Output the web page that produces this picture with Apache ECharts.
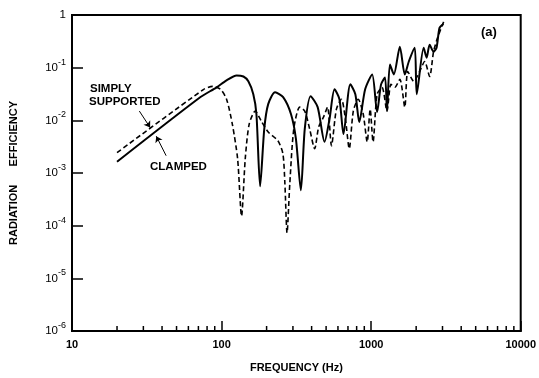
<!DOCTYPE html>
<html>
<head>
<meta charset="utf-8">
<script src="https://cdn.jsdelivr.net/npm/echarts@6/dist/echarts.min.js"></script>
<style>html,body{margin:0;padding:0;background:#fff}#c{width:539px;height:378px}</style>
</head>
<body>
<div id="c"></div>
<script>
// Clamped plate (solid)
const clampedFreq = [20, 70.5, 92.7, 108, 126, 140, 151, 163, 171, 181, 193, 205, 228, 258, 291, 314, 339, 360, 394, 439, 488, 527, 569, 614, 653, 726, 784, 833, 912, 1016, 1096, 1165, 1238, 1276, 1336, 1419, 1556, 1679, 1786, 1956, 2017, 2245, 2350, 2461, 2614, 2737, 2866, 3044];
const clampedEff  = [1.64e-3, 0.0263, 0.0424, 0.0574, 0.0713, 0.068, 0.055, 0.0313, 0.0132, 5.6e-4, 6.9e-3, 0.0203, 0.0341, 0.0275, 0.0132, 4.5e-3, 4.7e-4, 6.9e-3, 0.0287, 0.0178, 3.9e-3, 0.0106, 0.0388, 0.0252, 5.5e-3, 0.0482, 0.0313, 9.3e-3, 0.0388, 0.0744, 0.0144, 0.0482, 0.0653, 0.015, 0.115, 0.0744, 0.25, 0.0744, 0.131, 0.239, 0.0313, 0.239, 0.155, 0.273, 0.201, 0.239, 0.569, 0.677];
// Simply supported plate (dashed)
const ssFreq = [20, 76, 87.1, 98.4, 108, 118, 128, 136, 144, 153, 168, 184, 205, 238, 257, 265, 274, 286, 304, 333, 360, 388, 419, 446, 481, 511, 543, 586, 633, 673, 714, 760, 820, 885, 941, 985, 1030, 1096, 1183, 1276, 1356, 1441, 1556, 1679, 1758, 1928, 2112, 2280, 2461, 2614, 2780, 3090];
const ssEff  = [2.43e-3, 0.0388, 0.0442, 0.0388, 0.0252, 8.5e-3, 1.87e-3, 1.52e-4, 1.87e-3, 8.5e-3, 0.015, 9.7e-3, 6.0e-3, 4.1e-3, 2.33e-3, 6.4e-4, 7.3e-5, 6.4e-4, 6.9e-3, 0.0178, 0.015, 6.9e-3, 2.9e-3, 7.5e-3, 0.0116, 0.0178, 3.3e-3, 0.0163, 0.0252, 0.0106, 2.9e-3, 0.015, 0.0252, 0.0132, 3.9e-3, 0.0163, 3.9e-3, 0.0313, 0.0424, 0.015, 0.0482, 0.0424, 0.0599, 0.0178, 0.0848, 0.055, 0.0848, 0.131, 0.068, 0.201, 0.369, 0.805];
// Axis ticks
const xMin = 10, xMax = 10000, yMin = 1e-6, yMax = 1;
const xMinorTicks = [20,30,40,50,60,70,80,90,200,300,400,500,600,700,800,900,2000,3000,4000,5000,6000,7000,8000,9000];
// Annotation arrows [from, to] in data units
const ssArrow = [[28.2, 0.015], [33.3, 7.3e-3]];
const clArrow = [[42.6, 2.13e-3], [36.6, 5.0e-3]];

const FONT = '"Liberation Sans", Arial, sans-serif';
const chart = echarts.init(document.getElementById('c'), null, {renderer: 'canvas'});

function zip(a, b) { return a.map((v, i) => [v, b[i]]); }

const option = {
  backgroundColor: '#fff',
  animation: false,
  grid: {left: 72, right: 13, top: 15, bottom: 44, show: true, borderColor: '#000', borderWidth: 2},
  xAxis: {
    type: 'log', logBase: 10, min: xMin, max: xMax, splitNumber: 3,
    name: 'FREQUENCY (Hz)', nameLocation: 'middle', nameGap: 31,
    nameTextStyle: {fontFamily: FONT, fontWeight: 'bold', fontSize: 11, color: '#000'},
    axisLine: {lineStyle: {color: '#000', width: 2}},
    axisTick: {inside: true, length: 10, lineStyle: {color: '#000', width: 1.5}},
    axisLabel: {fontFamily: FONT, fontSize: 11, fontWeight: 'bold', color: '#000', margin: 8,
      formatter: function (v) { return String(Math.round(v)); }},
    splitLine: {show: false}
  },
  yAxis: {
    type: 'log', logBase: 10, min: yMin, max: yMax, splitNumber: 6,
    name: 'RADIATION      EFFICIENCY', nameLocation: 'middle', nameGap: 53, nameRotate: 90,
    nameTextStyle: {fontFamily: FONT, fontWeight: 'bold', fontSize: 11, color: '#000'},
    axisLine: {lineStyle: {color: '#000', width: 2}},
    axisTick: {inside: true, length: 11, lineStyle: {color: '#000', width: 1.5}},
    axisLabel: {
      margin: 6,
      formatter: function (v) {
        const e = Math.round(Math.log10(v));
        if (e === 0) return '{b|1}';
        return '{b|10}{s|' + e + '}';
      },
      rich: {
        b: {fontFamily: FONT, fontSize: 11.5, color: '#000'},
        s: {fontFamily: FONT, fontSize: 9, color: '#000', padding: [0, 0, 11, 0]}
      }
    },
    splitLine: {show: false}
  },
  graphic: [
    {type: 'text', left: 90, top: 83, style: {text: 'SIMPLY', font: 'bold 11.5px ' + FONT, fill: '#000'}},
    {type: 'text', left: 89, top: 96, style: {text: 'SUPPORTED', font: 'bold 11.5px ' + FONT, fill: '#000'}},
    {type: 'text', left: 150, top: 161, style: {text: 'CLAMPED', font: 'bold 11.5px ' + FONT, fill: '#000'}},
    {type: 'text', left: 481, top: 26, style: {text: '(a)', font: 'bold 13px ' + FONT, fill: '#000'}}
  ],
  series: [
    {
      name: 'CLAMPED', type: 'line', data: zip(clampedFreq, clampedEff),
      showSymbol: false, symbol: 'none', smooth: 0.25,
      lineStyle: {color: '#000', width: 2},
      markLine: {
        silent: true, symbol: ['none', 'arrow'], symbolSize: 6, label: {show: false},
        lineStyle: {color: '#000', width: 1, type: 'solid'},
        data: [[{coord: clArrow[0]}, {coord: clArrow[1]}]]
      }
    },
    {
      name: 'SIMPLY SUPPORTED', type: 'line', data: zip(ssFreq, ssEff),
      showSymbol: false, symbol: 'none', smooth: 0.25,
      lineStyle: {color: '#000', width: 1.6, type: [5, 3]},
      markLine: {
        silent: true, symbol: ['none', 'arrow'], symbolSize: 6, label: {show: false},
        lineStyle: {color: '#000', width: 1, type: 'solid'},
        data: [[{coord: ssArrow[0]}, {coord: ssArrow[1]}]]
      }
    },
    {
      name: 'minorTicks', type: 'custom', silent: true,
      data: xMinorTicks.map(v => [v, yMin]),
      encode: {x: 0, y: 1},
      renderItem: function (params, api) {
        const p = api.coord([api.value(0), yMin]);
        return {type: 'line', shape: {x1: p[0], y1: p[1], x2: p[0], y2: p[1] - 5},
                style: {stroke: '#000', lineWidth: 1.5}};
      },
      clip: false
    }
  ]
};
chart.setOption(option);
</script>
</body>
</html>
